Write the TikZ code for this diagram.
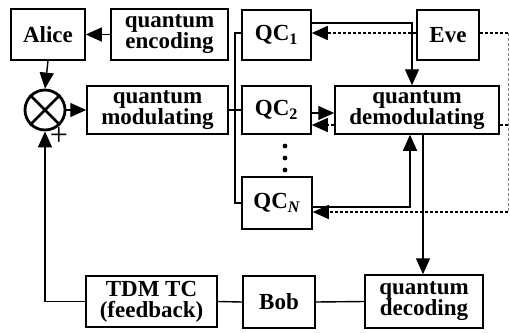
\documentclass[tikz,border=0pt]{standalone}
\usepackage{fontspec}
\setmainfont{Liberation Serif}
\usetikzlibrary{arrows.meta}
\begin{document}
\begin{tikzpicture}[x=1pt,y=-1pt,
  blk/.style={draw,line width=1.5pt,inner sep=1pt,align=center,
    font=\fontsize{23}{21}\selectfont\bfseries},
  wire/.style={line width=1.4pt},
  tip/.style={-{Triangle[length=16pt,width=14pt]}},
  arr/.style={wire,tip},
  dots/.style={wire,dash pattern=on 3pt off 2pt},
  darr/.style={dots,tip}]
\useasboundingbox (0,0) rectangle (510,332);
% blocks
\node[blk,minimum width=74pt,minimum height=51pt] (alice) at (48,34.5) {Alice};
\node[blk,minimum width=117pt,minimum height=51pt] (enc) at (169.5,34.5) {quantum\\encoding};
\node[blk,minimum width=141pt,minimum height=48pt] (mod) at (157.5,110) {quantum\\modulating};
\node[blk,minimum width=69pt,minimum height=50pt] (qc1) at (276.5,35) {QC\textsubscript{1}};
\node[blk,minimum width=69pt,minimum height=48pt] (qc2) at (276.5,110) {QC\textsubscript{2}};
\node[blk,minimum width=70pt,minimum height=52pt] (qcn) at (277,203) {QC\textsubscript{\textit{N}}};
\node[blk,minimum width=62pt,minimum height=50pt] (eve) at (448,35) {Eve};
\node[blk,minimum width=164pt,minimum height=48pt] (dem) at (417,110) {quantum\\demodulating};
\node[blk,minimum width=118pt,minimum height=53pt] (dec) at (424,301.5) {quantum\\decoding};
\node[blk,minimum width=72pt,minimum height=52pt] (bob) at (279,302) {Bob};
\node[blk,minimum width=131pt,minimum height=51pt] (tdm) at (151.5,301.5) {TDM TC\\(feedback)};
% multiplier
\node[circle,draw,line width=2.8pt,minimum size=40pt,inner sep=0pt] (mix) at (45,110) {};
\draw[line width=2.8pt] (mix.north west) -- (mix.south east) (mix.north east) -- (mix.south west);
\node[font=\fontsize{32}{32}\selectfont,inner sep=0pt] (plus) at (59,136) {+};
% vertical ellipsis between channels
\foreach \yy in {146,158,170} \fill (285,\yy) circle (2.4pt);
% junction coordinates
\coordinate (bt) at (235,33);
\coordinate (bb) at (235,203);
\coordinate (rt) at (508,33);
\coordinate (rb) at (508,212);
\coordinate (rm) at (508,125);
\coordinate (dq) at ([xshift=6pt]dem.south);
% solid connectors
\draw[arr] (enc.west) -- (alice.east);
\draw[arr] (alice.south) -- (mix.north);
\draw[arr] (mix.east) -- (mod.west);
\draw[wire] (mod.east) -- (qc2.west);
\draw[wire] (qc1.west |- bt) -- (bt) -- (bb) -- (qcn.west);
\draw[arr] ([yshift=12pt]qc1.east) -| ([xshift=-5pt]dem.north);
\draw[arr] ([yshift=-3pt]qc2.east) -- ([yshift=-3pt]dem.west);
\draw[arr] ([yshift=-4pt]qcn.east) -| ([xshift=-7pt]dem.south);
\draw[arr] (dq) -- (dec.north -| dq);
\draw[wire] (dec.west) -- (bob.east);
\draw[wire] (bob.west) -- (tdm.east);
\draw[arr] (tdm.west) -| (mix.south);
% eavesdropper links
\draw[darr] (eve.west |- bt) -- (qc1.east |- bt);
\draw[dots] (eve.east |- bt) -- (rt);
\draw[dots,line width=0.6pt,gray] (rt) -- (rb);
\draw[darr] (rb) -- (qcn.east |- rb);
\draw[dots] (rm) -- (dem.east |- rm);
\draw[darr] (dem.west |- rm) -- (qc2.east |- rm);
\end{tikzpicture}
\end{document}
